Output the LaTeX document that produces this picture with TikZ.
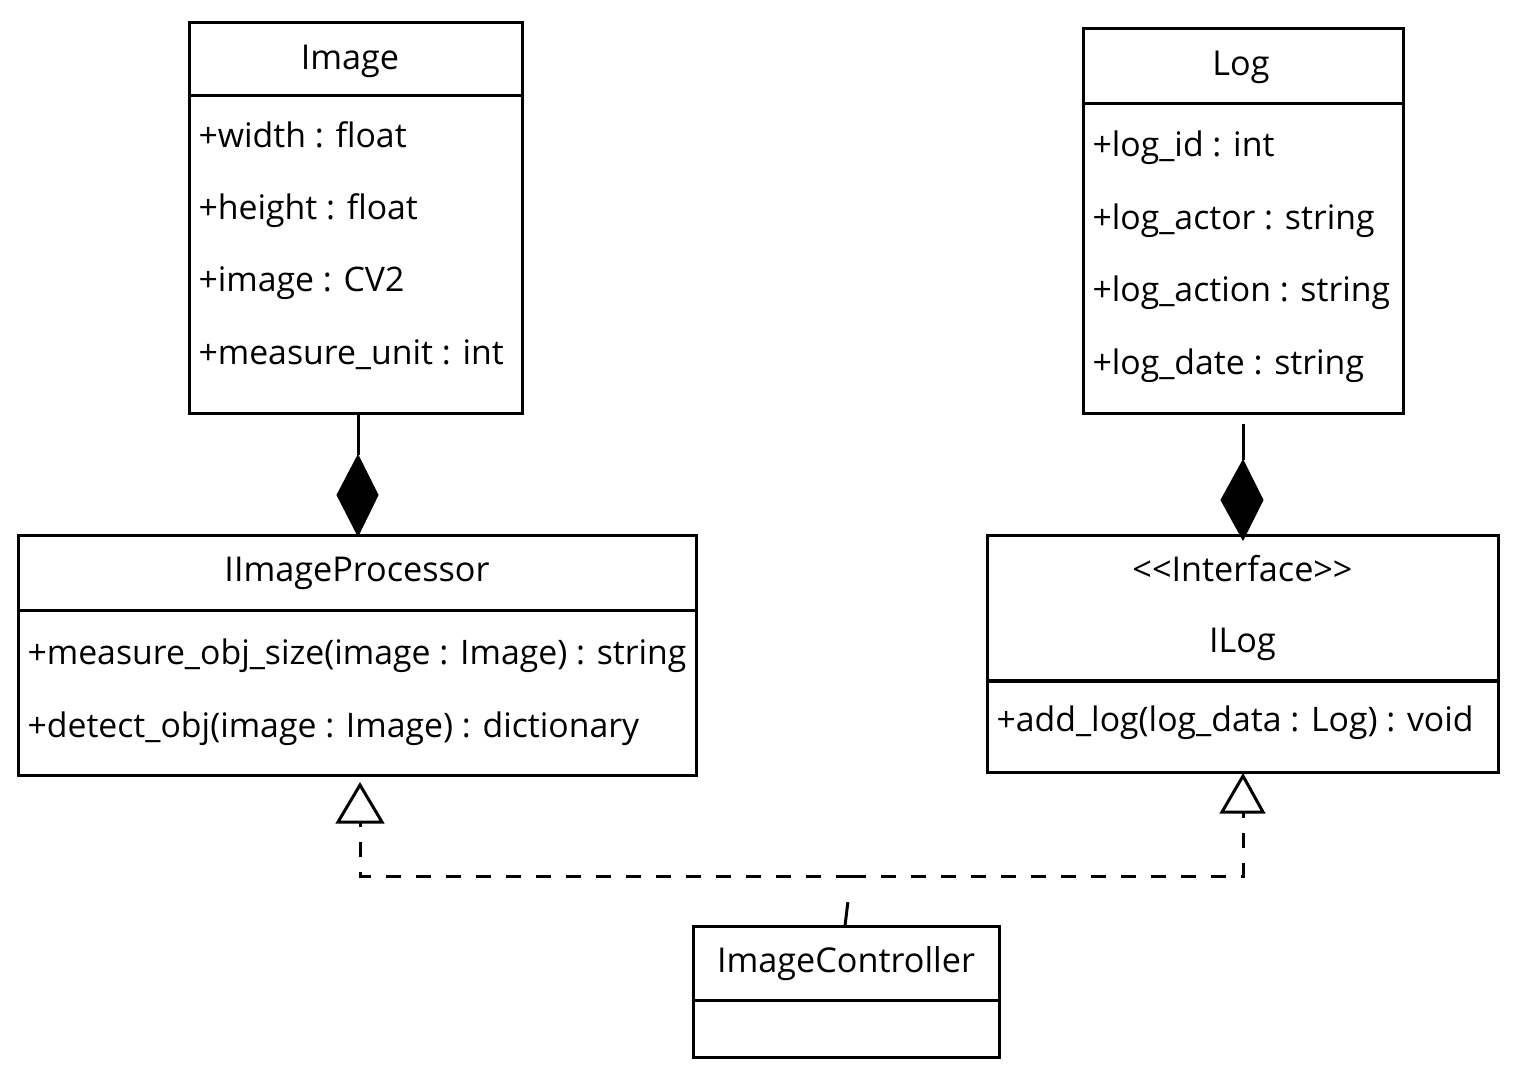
\documentclass[tikz,border=0pt]{standalone}
\usepackage{fontspec}
\setmainfont{Open Sans}
\usetikzlibrary{calc}
\begin{document}
\begin{tikzpicture}[x=0.5pt,y=-0.5pt,line width=1.5pt,
  box/.style={draw,rectangle,inner sep=0pt,outer sep=0pt,anchor=north west},
  txt/.style={inner sep=0pt,anchor=base west,font=\fontsize{16.9}{19}\selectfont},
  ttl/.style={inner sep=0pt,anchor=base,font=\fontsize{17.1}{19}\selectfont},
  dia/.style={fill=black,draw=black,line width=0.5pt},
  tri/.style={fill=white,draw=black,line width=1.5pt}]
\useasboundingbox (0,0) rectangle (1522,1069);
% Image
\node[box,minimum width=166.5pt,minimum height=195.5pt] (img) at (189,23) {};
\draw (189,96) -- (522,96);
\node[ttl] (imgt) at (350,70) {Image};
\node[txt] (a1) at (197,148) {+width : float};
\node[txt] (a2) at (197,220) {+height : float};
\node[txt] (a3) at (197,292) {+image : CV2};
\node[txt] (a4) at (197,365) {+measure\_unit : int};
% Log
\node[box,minimum width=160pt,minimum height=192.5pt] (log) at (1083,29) {};
\draw (1083,104) -- (1403,104);
\node[ttl] (logt) at (1241,76) {Log};
\node[txt] (b1) at (1091,157) {+log\_id : int};
\node[txt] (b2) at (1091,230) {+log\_actor : string};
\node[txt] (b3) at (1091,302) {+log\_action : string};
\node[txt] (b4) at (1091,375) {+log\_date : string};
% IImageProcessor
\node[box,minimum width=339pt,minimum height=119.5pt] (ip) at (18,536) {};
\draw (18,611) -- (696,611);
\node[ttl] (ipt) at (357,582) {IImageProcessor};
\node[txt] (c1) at (26,664) {+measure\_obj\_size(image : Image) : string};
\node[txt] (c2) at (26,737) {+detect\_obj(image : Image) : dictionary};
% ILog
\node[box,minimum width=255.5pt,minimum height=118pt] (ilog) at (987,536) {};
\draw (987,681) -- (1498,681);
\node[ttl] (ilogs) at (1242.5,582) {<{}<{}Interface>{}>};
\node[ttl] (ilogt) at (1242.5,653) {ILog};
\node[txt] (d1) at (995,732) {+add\_log(log\_data : Log) : void};
% ImageController
\node[box,minimum width=153pt,minimum height=65.5pt] (ic) at (693,926) {};
\draw (693,1000) -- (999,1000);
\node[ttl] (ict) at (846,972) {ImageController};
% compositions
\coordinate (i1) at (358,455);
\draw (img.south -| i1) -- (i1);
\filldraw[dia] (358,455) -- (378,495) -- (358,536) -- (337,495) -- cycle;
\coordinate (l0) at (1243,424);
\coordinate (l1) at (1243,460);
\draw (l0) -- (l1);
\filldraw[dia] (1243,460) -- (1263,500) -- (1243,540) -- (1221,500) -- cycle;
% realizations
\coordinate (j) at (851,876);
\coordinate (jb) at (845,926);
\draw[dash pattern=on 12pt off 14pt] (jb) -- (j);
\draw[dash pattern=on 7.5pt off 7.5pt] (j) -- (360,876) -- (360,822);
\draw[dash pattern=on 7.5pt off 7.5pt] (j) -- (1243,876) -- (1243,812);
\draw[tri] (360,785) -- (382,822) -- (338,822) -- cycle;
\draw[tri] (1243,776) -- (1263,812) -- (1222,812) -- cycle;
\end{tikzpicture}
\end{document}
